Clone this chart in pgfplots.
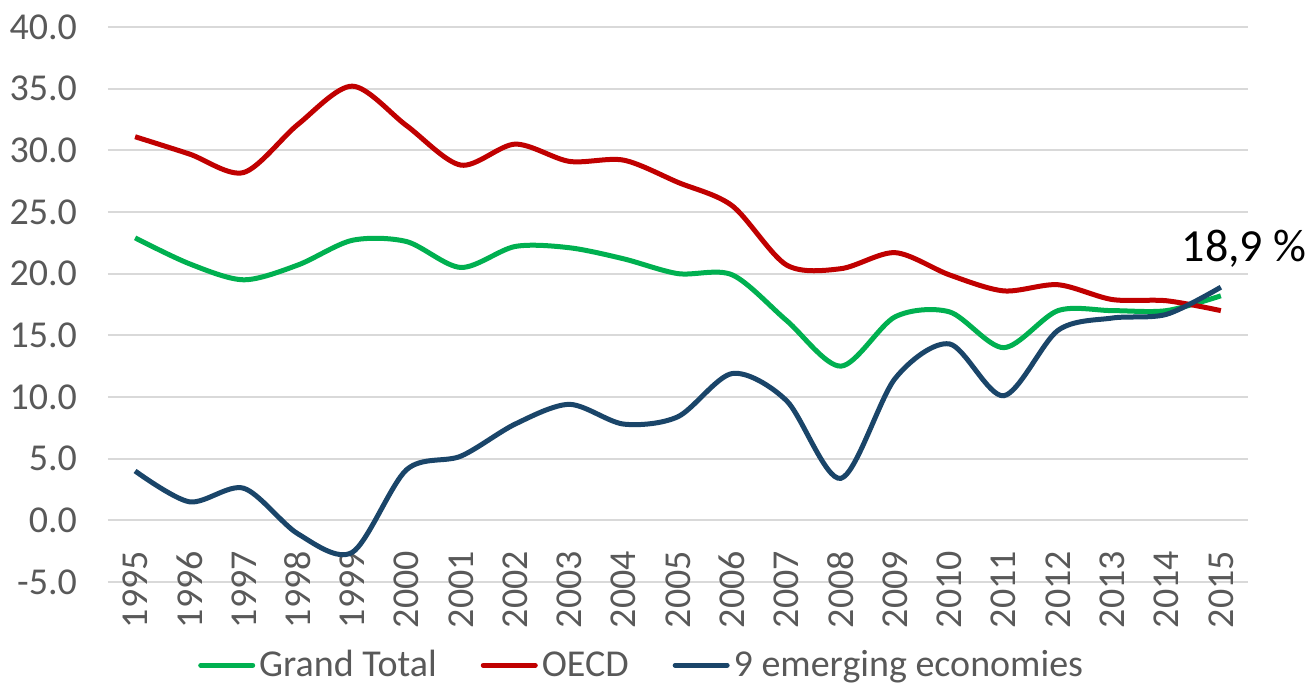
\documentclass[border=0pt]{standalone}
\usepackage{fontspec}
\setmainfont{Carlito}
\usepackage{pgfplots}
\pgfplotsset{compat=1.18}

\definecolor{gtotal}{HTML}{00B050}
\definecolor{oecd}{HTML}{C00000}
\definecolor{emerg}{HTML}{1A4569}
\definecolor{ticktxt}{HTML}{595959}
\definecolor{gridc}{HTML}{D9D9D9}

\begin{document}
\begin{tikzpicture}
\begin{axis}[
    scale only axis,
    width=570pt, height=277.5pt,
    xmin=1994.5, xmax=2015.5,
    ymin=-5, ymax=40,
    xtick={1995,1996,...,2015},
    ytick={-5,0,...,40},
    axis line style={draw=none},
    major tick length=0pt,
    ymajorgrids,
    grid style={gridc, line width=1pt},
    clip=false,
    tick label style={font=\fontsize{19}{22}\selectfont, text=ticktxt},
    xticklabel style={/pgf/number format/.cd, 1000 sep=, assume math mode=true,
      /tikz/.cd, yshift=19pt, rotate=90, anchor=east},
    yticklabel style={/pgf/number format/.cd, fixed, fixed zerofill, precision=1, assume math mode=true,
      /tikz/.cd, xshift=-12pt},
    legend style={at={(0.469,-0.15)}, anchor=center, draw=none, fill=none,
      legend columns=3, font=\fontsize{19}{22}\selectfont, text=ticktxt,
      /tikz/every even column/.append style={column sep=20pt}},
    legend image code/.code={\draw[#1, line width=2.5pt, line cap=round] (0pt,0pt) -- (26pt,0pt);},
    legend cell align=left,
  ]

  % Grand Total
  \addplot[gtotal, line width=2.5pt, smooth, tension=0.5] coordinates {
    (1995,22.9) (1996,20.8) (1997,19.5) (1998,20.7) (1999,22.7) (2000,22.6)
    (2001,20.5) (2002,22.2) (2003,22.1) (2004,21.2) (2005,20.0) (2006,19.9)
    (2007,16.2) (2008,12.5) (2009,16.5) (2010,16.9) (2011,14.0) (2012,17.0)
    (2013,17.0) (2014,17.0) (2015,18.2)
  };
  \addlegendentry{Grand Total}

  % OECD
  \addplot[oecd, line width=2.5pt, smooth, tension=0.5] coordinates {
    (1995,31.1) (1996,29.7) (1997,28.2) (1998,32.1) (1999,35.2) (2000,32.0)
    (2001,28.8) (2002,30.5) (2003,29.1) (2004,29.2) (2005,27.4) (2006,25.5)
    (2007,20.7) (2008,20.4) (2009,21.7) (2010,19.9) (2011,18.6) (2012,19.1)
    (2013,17.9) (2014,17.8) (2015,17.0)
  };
  \addlegendentry{OECD}

  % 9 emerging economies
  \addplot[emerg, line width=2.5pt, smooth, tension=0.5] coordinates {
    (1995,4.0) (1996,1.5) (1997,2.6) (1998,-1.1) (1999,-2.6) (2000,4.1)
    (2001,5.2) (2002,7.8) (2003,9.4) (2004,7.8) (2005,8.4) (2006,11.9)
    (2007,9.7) (2008,3.4) (2009,11.5) (2010,14.3) (2011,10.1) (2012,15.4)
    (2013,16.4) (2014,16.7) (2015,18.9)
  };
  \addlegendentry{9 emerging economies}

  \node[anchor=south, inner sep=0pt, font=\fontsize{23}{26}\selectfont, text=black]
    at (axis cs:2015.43,20.5) {18,9 \%};

  % page extent
  \path (rel axis cs:-0.0947,-0.1856) rectangle (rel axis cs:1.0579,1.0486);
\end{axis}
\end{tikzpicture}
\end{document}
